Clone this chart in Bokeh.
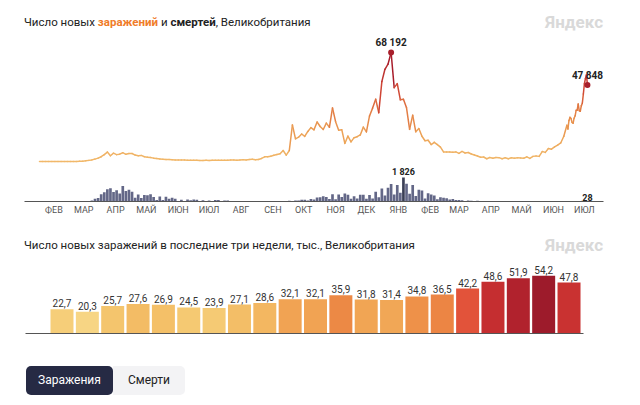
import numpy as np
import pandas as pd
from bokeh.plotting import figure
from bokeh.models import (ColumnDataSource, Range1d, FixedTicker, LinearColorMapper,
                          LabelSet, Label, Div)
from bokeh.layouts import column
from bokeh.core.properties import value
from bokeh.embed import file_html
from bokeh.resources import INLINE

FONT = "Roboto"

# ---------------- data ----------------
START = pd.Timestamp("2020-01-31")
# every third day 2020-02-01 .. 2021-06-25, then daily 2021-06-28 .. 2021-07-18
grid_dates = list(pd.date_range("2020-02-01", "2021-06-25", freq="3D"))
week_dates = list(pd.date_range("2021-06-28", "2021-07-18", freq="D"))

# new cases, thousands (sampled)
grid_cases = [
    0, 0, 0, 0, 0, 0, 0, 0, 0, 0,
    0.01, 0.03, 0.05, 0.1, 0.2, 0.4, 0.7, 1.0, 1.5, 2.1,
    3.0, 4.3, 5.9, 3.6, 5.2, 4.3, 4.6, 5.5, 4.5, 5.0,
    5.0, 4.0, 3.6, 3.8, 3.0, 2.7, 2.5, 2.1, 1.8, 1.5,
    1.4, 1.2, 1.3, 1.1, 1.0, 1.0, 0.9, 0.9, 0.8, 0.8,
    0.7, 0.8, 0.6, 0.6, 0.7, 0.6, 0.8, 0.7, 0.7, 0.8,
    0.8, 0.8, 0.9, 0.9, 0.8, 1.0, 1.1, 1.0, 1.2, 1.4,
    1.1, 1.3, 1.9, 2.9, 2.9, 3.3, 3.9, 4.4, 4.9, 6.9,
    4.0, 6.9, 22.9, 14.2, 15.2, 17.2, 15.7, 18.8, 21.2, 19.8,
    24.7, 21.9, 20.0, 24.0, 21.4, 33.5, 24.9, 19.6, 19.9, 11.3,
    15.9, 12.3, 14.9, 15.5, 16.6, 21.5, 18.5, 28.5, 33.4, 39.0,
    30.5, 50.0, 57.7, 60.9, 68.192, 46.2, 48.7, 38.6, 38.9, 33.6,
    20.1, 29.0, 18.6, 20.6, 15.8, 13.0, 13.3, 10.6, 12.0, 10.6,
    9.0, 6.0, 6.0, 6.0, 5.8, 6.0, 5.1, 6.3, 5.3, 5.6,
    4.7, 4.1, 3.4, 2.7, 2.8, 1.7, 2.5, 2.0, 2.5, 2.4,
    1.7, 2.3, 1.7, 2.3, 2.0, 2.3, 2.2, 2.0, 2.9, 1.9,
    3.2, 3.4, 3.2, 6.2, 5.7, 8.1, 7.7, 9.1, 10.3, 11.6,
    15.8,
]
# last three weeks, thousands
week_values = [22.7, 20.3, 25.7, 27.6, 26.9, 24.5, 23.9, 27.1, 28.6, 32.1, 32.1,
               35.9, 31.8, 31.4, 34.8, 36.5, 42.2, 48.6, 51.9, 54.2, 47.848]
week_days = ["28", "29", "30", "1", "2", "3", "4", "5", "6", "7", "8",
             "9", "10", "11", "12", "13", "14", "15", "16", "17", "18"]

# deaths, thousands (sampled on the same dates)
grid_deaths = [
    0, 0, 0, 0, 0, 0, 0, 0, 0, 0,
    0, 0, 0, 0.001, 0.01, 0.02, 0.04, 0.08, 0.2, 0.26,
    0.56, 0.7, 0.94, 1.0, 0.72, 0.86, 0.6, 1.17, 0.8, 0.9,
    0.74, 0.29, 0.54, 0.27, 0.49, 0.47, 0.55, 0.35, 0.12, 0.38,
    0.11, 0.36, 0.2, 0.29, 0.2, 0.04, 0.14, 0.04, 0.15, 0.1,
    0.16, 0.14, 0.02, 0.09, 0.02, 0.07, 0.04, 0.11, 0.12, 0.01,
    0.08, 0.07, 0.01, 0.02, 0.01, 0.02, 0.01, 0.02, 0.02, 0.01,
    0.01, 0.003, 0.01, 0.002, 0.01, 0.02, 0.02, 0.03, 0.04, 0.03,
    0.017, 0.066, 0.03, 0.07, 0.08, 0.14, 0.14, 0.08, 0.19, 0.15,
    0.31, 0.33, 0.4, 0.35, 0.19, 0.56, 0.17, 0.53, 0.34, 0.6,
    0.52, 0.2, 0.4, 0.23, 0.52, 0.52, 0.21, 0.49, 0.22, 0.74,
    0.32, 0.98, 0.45, 1.04, 1.33, 0.53, 1.25, 0.67, 1.826, 1.35,
    0.59, 1.25, 0.41, 0.9, 0.83, 0.23, 0.62, 0.54, 0.45, 0.18,
    0.32, 0.29, 0.24, 0.16, 0.19, 0.12, 0.11, 0.1, 0.03, 0.07,
    0.06, 0.02, 0.05, 0.03, 0.01, 0.03, 0.02, 0.04, 0.01, 0.02,
    0.02, 0.01, 0.01, 0.002, 0.01, 0.01, 0.01, 0.01, 0.01, 0.01,
    0.01, 0.006, 0.001, 0.01, 0.009, 0.007, 0.01, 0.02, 0.014, 0.02,
    0.02,
]
week_deaths = [0.003, 0.014, 0.018, 0.02, 0.015, 0.01, 0.015, 0.01, 0.015, 0.026, 0.035,
               0.034, 0.02, 0.01, 0.05, 0.035, 0.03, 0.063, 0.049, 0.041, 0.028]

month_labels = ["ФЕВ", "МАР", "АПР", "МАЙ", "ИЮН", "ИЮЛ", "АВГ", "СЕН", "ОКТ", "НОЯ",
                "ДЕК", "ЯНВ", "ФЕВ", "МАР", "АПР", "МАЙ", "ИЮН", "ИЮЛ"]
month_starts = pd.date_range("2020-02-01", periods=len(month_labels), freq="MS")

assert len(grid_cases) == len(grid_dates) == len(grid_deaths)

# ---------------- helpers ----------------
def ramp(stops, n=256):
    pos = np.array([s[0] for s in stops], float)
    rgb = np.array([[int(c[i:i + 2], 16) for i in (1, 3, 5)] for _, c in stops], float)
    out = []
    for k in np.linspace(pos[0], pos[-1], n):
        r = [int(round(np.interp(k, pos, rgb[:, j]))) for j in range(3)]
        out.append("#%02x%02x%02x" % tuple(r))
    return out

def fmt_int(v):
    return f"{int(round(v)):,}".replace(",", " ")

W = 624
BL, BR = 16, 29   # shared side borders (frame 24..603 on the page)

def style_axis(a):
    a.major_tick_line_color = None
    a.minor_tick_line_color = None
    a.major_tick_out = 0
    a.major_tick_in = 0
    a.minor_tick_out = 0
    a.minor_tick_in = 0
    a.axis_line_color = "#555555"

# ---------------- top chart ----------------
dates = grid_dates + week_dates
xd = np.array([(d - START).days for d in dates], float)
yc = np.array(grid_cases + week_values, float)
yd = np.array(grid_deaths + week_deaths, float)
wd = np.array([2.6] * len(grid_dates) + [0.8] * len(week_dates))

line_pal = ramp([(0, "#f1b86a"), (20, "#eca257"), (35, "#e27b43"), (50, "#cf4535"), (68.2, "#a81d2b")])
line_map = LinearColorMapper(palette=line_pal, low=0, high=float(yc.max()))

f1 = figure(width=W, height=182, x_range=Range1d(-13.6, 549.6), y_range=Range1d(-25.03, 78.2),
            y_axis_location=None, output_backend="svg", toolbar_location=None,
            min_border_left=BL, min_border_right=BR, min_border_top=0, min_border_bottom=17,
            margin=(0, 0, 0, 0))
f1.extra_y_ranges = {"deaths": Range1d(0, 12.553)}
f1.outline_line_color = None
f1.grid.visible = False

idp = int(np.argmax(yd))
dcol = ["#52567a"] * len(yd)
dcol[idp] = "#262a44"
f1.vbar(x=xd, top=yd, width=wd, bottom=0, y_range_name="deaths",
        fill_color=dcol, line_color=None, fill_alpha=0.9)

seg = ColumnDataSource(dict(x0=xd[:-1], x1=xd[1:], y0=yc[:-1], y1=yc[1:],
                            v=np.maximum(yc[:-1], yc[1:])))
f1.segment("x0", "y0", "x1", "y1", source=seg, line_width=1.5, line_cap="round",
           line_color={"field": "v", "transform": line_map})

ip = int(np.argmax(yc))
ie = len(yc) - 1
f1.scatter(x=[xd[ip], xd[ie]], y=[yc[ip], yc[ie]], size=6, fill_color="#a8202c", line_color=None)
f1.text(x=[xd[ip], xd[ie]], y=[yc[ip], yc[ie]],
        text=[fmt_int(yc[ip] * 1000), fmt_int(yc[ie] * 1000)],
        text_align="center", text_baseline="bottom", y_offset=-4,
        text_font=value(FONT), text_font_size="10px", text_font_style="bold", text_color="#222")
f1.text(x=[xd[idp], xd[ie]], y=[yd[idp], yd[ie]], y_range_name="deaths",
        text=[fmt_int(yd[idp] * 1000), fmt_int(yd[ie] * 1000)],
        text_align="center", text_baseline="bottom", y_offset=0,
        text_font=value(FONT), text_font_size="9px", text_font_style="bold", text_color="#222")

month_ticks = [float((m - START).days + 14) for m in month_starts]
ax = f1.xaxis[0]
ax.ticker = FixedTicker(ticks=month_ticks, minor_ticks=[])
ax.major_label_overrides = {t: lab for t, lab in zip(month_ticks, month_labels)}
style_axis(ax)
ax.major_label_standoff = 3
ax.major_label_text_font = FONT
ax.major_label_text_font_size = "9px"
ax.major_label_text_color = "#555555"

# ---------------- bottom chart ----------------
bar_pal = ramp([(20, "#f7d685"), (26, "#f4c46b"), (30, "#f2b05c"), (33, "#f09d4f"),
                (37, "#eb8242"), (42, "#e3553a"), (48, "#c93131"), (52, "#b1222d"),
                (54.2, "#9d1b2b")])
bar_map = LinearColorMapper(palette=bar_pal, low=20, high=54.2)

n = len(week_values)
bx = list(range(n))
weekend = [d.dayofweek >= 5 for d in week_dates]
bsrc = ColumnDataSource(dict(
    x=bx, top=week_values, zero=[0] * n,
    lab=[f"{v:.1f}".replace(".", ",") for v in week_values],
    day=week_days,
    dc=["#e2553f" if w else "#555555" for w in weekend],
))

f2 = figure(width=W, height=92, x_range=Range1d(-1.479, 21.36), y_range=Range1d(0, 68.5),
            y_axis_location=None, output_backend="svg", toolbar_location=None,
            min_border_left=BL, min_border_right=BR, min_border_top=0, min_border_bottom=19,
            margin=(0, 0, 0, 0))
f2.outline_line_color = None
f2.grid.visible = False
f2.vbar(x="x", top="top", width=0.907, source=bsrc, line_color=None,
        fill_color={"field": "top", "transform": bar_map})
f2.text(x="x", y="top", text="lab", source=bsrc, text_align="center", text_baseline="bottom",
        y_offset=-2, text_font=value(FONT), text_font_size="10px", text_color="#333333")
bx2 = f2.xaxis[0]
bx2.ticker = FixedTicker(ticks=[], minor_ticks=[])
style_axis(bx2)
bx2.bounds = (-1.44, n - 0.43)
bx2.major_label_text_font_size = "0px"
f2.add_layout(LabelSet(x="x", y="zero", text="day", source=bsrc, text_color="dc",
                       text_align="center", text_baseline="top", y_offset=-3,
                       text_font=value(FONT), text_font_size=value("9px")))
f2.add_layout(Label(x=-1.1, y=0, text="ИЮН", text_align="center", text_baseline="top", y_offset=-3,
                    text_font=FONT, text_font_size="9px", text_color="#333333"))
f2.add_layout(Label(x=n - 0.11, y=0, text="ИЮЛ", text_align="center", text_baseline="top", y_offset=-3,
                    text_font=FONT, text_font_size="9px", text_color="#333333"))

# ---------------- titles & buttons ----------------
def title_div(inner, height, top):
    html = (f'<div style="position:relative;width:{W}px;height:{height}px;font-family:{FONT};">'
            f'<div style="position:absolute;left:16px;top:{top}px;height:28px;line-height:28px;'
            f'font-size:11.5px;color:#222;white-space:nowrap;">{inner}</div>'
            f'<div style="position:absolute;right:29px;top:{top}px;height:28px;line-height:28px;'
            f'font-size:17px;font-weight:700;color:#d9d9d9;">Яндекс</div>'
            f'</div>')
    return Div(text=html, width=W, height=height, margin=(0, 0, 0, 0))

t1 = title_div('Число новых <span style="color:#f07c2a;font-weight:700">заражений</span> и '
               '<span style="font-weight:700">смертей</span>, Великобритания', 28, 0)
t2 = title_div('Число новых заражений в последние три недели, тыс., Великобритания', 42, 13)

buttons = Div(text=(
    f'<div style="position:relative;width:{W}px;height:48px;font-family:{FONT};font-size:12px;">'
    '<div style="position:absolute;left:18px;top:14px;width:87px;height:29px;background:#262a44;'
    'color:#fff;border-radius:5px;display:flex;align-items:center;justify-content:center;">Заражения</div>'
    '<div style="position:absolute;left:105px;top:14px;width:72px;height:29px;background:#f3f3f5;'
    'color:#222;border-radius:0 5px 5px 0;display:flex;align-items:center;justify-content:center;">'
    'Смерти</div></div>'),
    width=W, height=48, margin=(0, 0, 0, 0))

layout = column(t1, f1, t2, f2, buttons, spacing=0, margin=(8, 0, 0, 8))

open("out.html", "w").write(file_html(layout, INLINE))
